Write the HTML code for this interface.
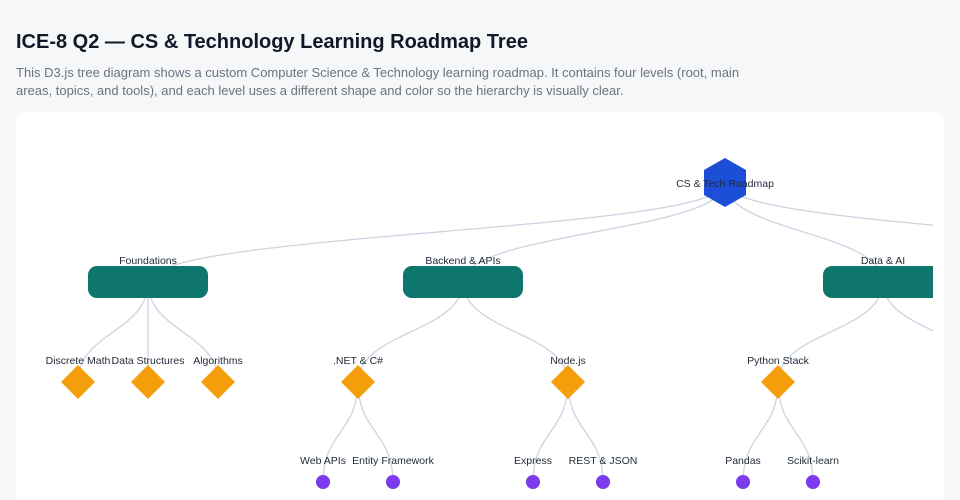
<!DOCTYPE html>
<html><head><meta charset="utf-8"><style>
html,body{margin:0;width:960px;height:500px;overflow:hidden}
body{background:#f6f7f9;font-family:"Liberation Sans",sans-serif;position:relative}
h1{position:absolute;left:16px;top:31px;margin:0;font-size:20px;font-weight:bold;color:#111827}
p{position:absolute;left:16px;top:64px;margin:0;width:745px;font-size:13px;line-height:18px;color:#6b7280}
.card{position:absolute;left:16px;top:112px;width:928px;height:388px;background:#fff;border-radius:10px 10px 0 0}
svg{position:absolute;left:0;top:0}
text{font-family:"Liberation Sans",sans-serif;font-size:10.5px;fill:#1f2937;text-anchor:middle}
</style></head><body>
<h1>ICE-8 Q2 — CS &amp; Technology Learning Roadmap Tree</h1>
<p>This D3.js tree diagram shows a custom Computer Science &amp; Technology learning roadmap. It contains four levels (root, main areas, topics, and tools), and each level uses a different shape and color so the hierarchy is visually clear.</p>
<div class="card"></div>
<svg width="960" height="500"><defs><clipPath id="c"><rect x="16" y="112" width="917" height="388"/></clipPath></defs>
<g clip-path="url(#c)">
<g fill="none" stroke="#cbd5e1" stroke-width="1.3">
<path d="M725,183C725,232 148,232 148,282"/>
<path d="M725,183C725,232 463,232 463,282"/>
<path d="M725,183C725,232 883,232 883,282"/>
<path d="M725,183C725,232 1300,232 1300,282"/>
<path d="M148,282C148,332 78,332 78,382"/>
<path d="M148,282V382"/>
<path d="M148,282C148,332 218,332 218,382"/>
<path d="M463,282C463,332 358,332 358,382"/>
<path d="M463,282C463,332 568,332 568,382"/>
<path d="M883,282C883,332 778,332 778,382"/>
<path d="M883,282C883,332 988,332 988,382"/>
<path d="M358,382C358,432 323,432 323,482"/>
<path d="M358,382C358,432 393,432 393,482"/>
<path d="M568,382C568,432 533,432 533,482"/>
<path d="M568,382C568,432 603,432 603,482"/>
<path d="M778,382C778,432 743,432 743,482"/>
<path d="M778,382C778,432 813,432 813,482"/>
<path d="M988,382C988,432 953,432 953,482"/>
</g>
<polygon points="725,158 746,170 746,195 725,207 704,195 704,170" fill="#1d4ed8"/>
<text x="725" y="187">CS &amp; Tech Roadmap</text>
<g fill="#0f766e">
<rect x="88" y="266" width="120" height="32" rx="9"/>
<rect x="403" y="266" width="120" height="32" rx="9"/>
<rect x="823" y="266" width="120" height="32" rx="9"/>
</g>
<text x="148" y="264">Foundations</text><text x="463" y="264">Backend &amp; APIs</text><text x="883" y="264">Data &amp; AI</text>
<g fill="#f59e0b">
<polygon points="78,365 95,382 78,399 61,382"/>
<polygon points="148,365 165,382 148,399 131,382"/>
<polygon points="218,365 235,382 218,399 201,382"/>
<polygon points="358,365 375,382 358,399 341,382"/>
<polygon points="568,365 585,382 568,399 551,382"/>
<polygon points="778,365 795,382 778,399 761,382"/>
</g>
<text x="78" y="364">Discrete Math</text><text x="148" y="364">Data Structures</text><text x="218" y="364">Algorithms</text>
<text x="358" y="364">.NET &amp; C#</text><text x="568" y="364">Node.js</text><text x="778" y="364">Python Stack</text>
<g fill="#7c3aed">
<circle cx="323" cy="482" r="7"/><circle cx="393" cy="482" r="7"/><circle cx="533" cy="482" r="7"/><circle cx="603" cy="482" r="7"/><circle cx="743" cy="482" r="7"/><circle cx="813" cy="482" r="7"/>
</g>
<text x="323" y="464">Web APIs</text><text x="393" y="464">Entity Framework</text><text x="533" y="464">Express</text><text x="603" y="464">REST &amp; JSON</text><text x="743" y="464">Pandas</text><text x="813" y="464">Scikit-learn</text><text x="953" y="464">NumPy</text>
</g></svg>
</body></html>
